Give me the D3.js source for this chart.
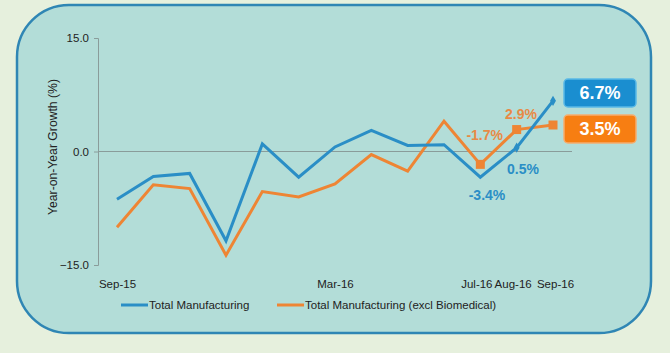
<!DOCTYPE html>
<html><head><meta charset="utf-8">
<script src="https://cdn.jsdelivr.net/npm/d3@7"></script>
<style>html,body{margin:0;padding:0;background:#e6f0dd;}svg{display:block;}</style>
</head><body>
<svg id="c" width="670" height="353"></svg>
<script>
const months = ["Sep-15","Oct-15","Nov-15","Dec-15","Jan-16","Feb-16","Mar-16","Apr-16","May-16","Jun-16","Jul-16","Aug-16","Sep-16"];
const totalMfg = [-6.3,-3.3,-2.9,-11.8,1.0,-3.4,0.6,2.8,0.8,0.9,-3.4,0.5,6.7];
const exclBio = [-10.0,-4.4,-4.9,-13.7,-5.3,-6.0,-4.3,-0.4,-2.6,4.0,-1.7,2.9,3.5];
const xTickLabels = ["Sep-15","Mar-16","Jul-16","Aug-16","Sep-16"];
const yTicks = [-15,0,15];
const seriesNames = ["Total Manufacturing","Total Manufacturing (excl Biomedical)"];
const blue = "#2a8ec6", orange = "#ee8534";

const svg = d3.select("#c");
svg.append("rect").attr("width",670).attr("height",353).attr("fill","#e6f0dd");
svg.append("rect").attr("x",17).attr("y",5).attr("width",634).attr("height",328)
  .attr("rx",52).attr("ry",52).attr("fill","#b3ddd8").attr("stroke","#2f86b4").attr("stroke-width",2.5);

const x = d3.scalePoint().domain(months).range([117,553]);
const y = d3.scaleLinear().domain([-15,15]).range([265,38]);

const font = "Liberation Sans, Arial, sans-serif";
// y axis
const ya = svg.append("g").attr("transform","translate(98,0)")
  .call(d3.axisLeft(y).tickValues(yTicks).tickFormat(d3.format(".1f")).tickSize(4).tickPadding(5));
ya.select(".domain").attr("stroke","#8a9c9a");
ya.selectAll(".tick line").attr("stroke","#8a9c9a");
ya.selectAll("text").attr("font-family",font).attr("font-size",11.5).attr("fill","#222");
// zero line
svg.append("line").attr("x1",98).attr("x2",572).attr("y1",y(0)).attr("y2",y(0)).attr("stroke","#8a9c9a").attr("stroke-width",1);
// x labels
const xShift = {"Sep-15":0,"Mar-16":0,"Jul-16":-4,"Aug-16":-4,"Sep-16":2};
const xa = svg.append("g").attr("transform","translate(0,274)")
  .call(d3.axisBottom(x).tickValues(xTickLabels).tickSize(0).tickPadding(6));
xa.select(".domain").remove();
xa.selectAll("text").attr("font-family",font).attr("font-size",11.5).attr("fill","#222").attr("dx",d=>xShift[d]);
// y title
svg.append("text").attr("transform","translate(57,147) rotate(-90)").attr("text-anchor","middle")
  .attr("font-family",font).attr("font-size",12.2).attr("fill","#222").text("Year-on-Year Growth (%)");

const line = d3.line().x((d,i)=>x(months[i])).y(d=>y(d));
svg.append("path").datum(exclBio).attr("d",line).attr("fill","none").attr("stroke",orange).attr("stroke-width",3).attr("stroke-linejoin","miter");
svg.append("path").datum(totalMfg).attr("d",line).attr("fill","none").attr("stroke",blue).attr("stroke-width",3).attr("stroke-linejoin","miter");

// markers last three
const last = [10,11,12];
svg.selectAll(".sq").data(last).join("rect").attr("x",i=>x(months[i])-4.5).attr("y",i=>y(exclBio[i])-4.5)
  .attr("width",9).attr("height",9).attr("fill",orange);
svg.selectAll(".dm").data(last.slice(1)).join("path")
  .attr("d",d3.symbol().type(d3.symbolDiamond).size(30))
  .attr("transform",i=>`translate(${x(months[i])},${y(totalMfg[i])})`).attr("fill",blue);

// point labels
const lbl = [
  {t:"-1.7%", xx:503, yy:140, c:"#e88a45", a:"end"},
  {t:"2.9%", xx:505, yy:119, c:"#e88a45", a:"start"},
  {t:"0.5%", xx:507, yy:174, c:blue, a:"start"},
  {t:"-3.4%", xx:487, yy:200, c:blue, a:"middle"}
];
svg.selectAll(".pl").data(lbl).join("text").attr("x",d=>d.xx).attr("y",d=>d.yy).attr("text-anchor",d=>d.a)
  .attr("font-family",font).attr("font-weight","bold").attr("font-size",14).attr("fill",d=>d.c).text(d=>d.t);

// badges
const badges = [{v:totalMfg[12], c:"#1a8ed0", s:"#5ab9e6", y0:79},{v:exclBio[12], c:"#f77e12", s:"#f6ad6e", y0:115}];
badges.forEach(b=>{
  svg.append("rect").attr("x",564).attr("y",b.y0).attr("width",72).attr("height",28).attr("rx",4)
    .attr("fill",b.c).attr("stroke",b.s).attr("stroke-width",1.5);
  svg.append("text").attr("x",600).attr("y",b.y0+20).attr("text-anchor","middle").attr("font-family",font)
    .attr("font-weight","bold").attr("font-size",18).attr("fill","#fff").text(b.v.toFixed(1)+"%");
});

// legend
const leg = [{x0:121,c:blue,t:seriesNames[0]},{x0:277,c:orange,t:seriesNames[1]}];
leg.forEach(l=>{
  svg.append("line").attr("x1",l.x0).attr("x2",l.x0+27).attr("y1",305).attr("y2",305).attr("stroke",l.c).attr("stroke-width",3);
  svg.append("text").attr("x",l.x0+28).attr("y",309).attr("font-family",font).attr("font-size",11.5).attr("fill","#222").text(l.t);
});
</script>
</body></html>
